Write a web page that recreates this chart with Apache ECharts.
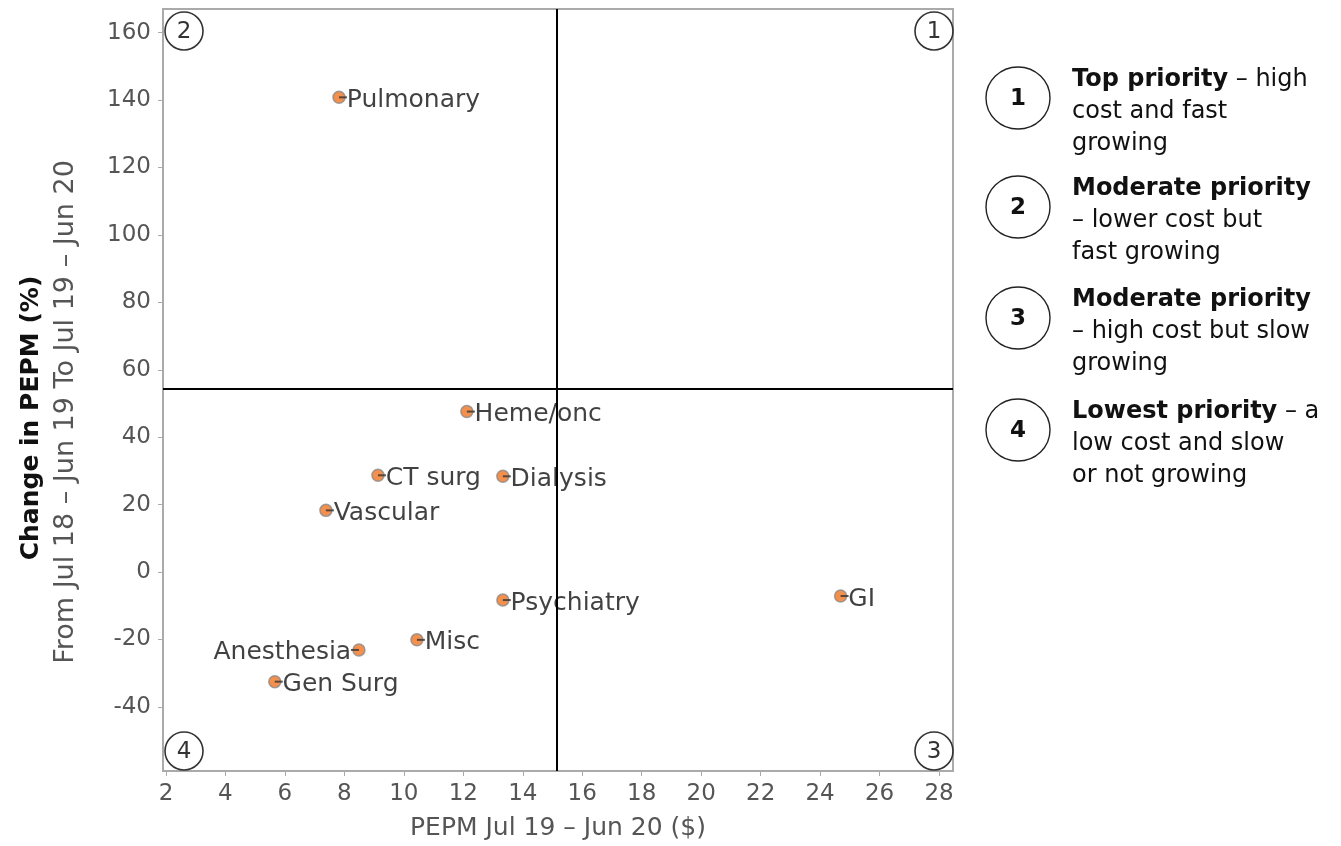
<!DOCTYPE html>
<html>
<head>
<meta charset="utf-8">
<script src="https://cdn.jsdelivr.net/npm/echarts@6/dist/echarts.min.js"></script>
<style>
  html, body { margin: 0; padding: 0; background: #fff; }
  #chart { width: 1341px; height: 846px; }
</style>
</head>
<body>
<div id="chart"></div>
<script>
// Specialty cost vs. growth
const specialties = ['Pulmonary', 'Heme/onc', 'CT surg', 'Dialysis', 'Vascular', 'Psychiatry', 'GI', 'Misc', 'Anesthesia', 'Gen Surg'];
const pepm = [7.82, 12.12, 9.13, 13.33, 7.38, 13.33, 24.69, 10.44, 8.49, 5.66];
const changePct = [140.8, 47.6, 28.7, 28.4, 18.3, -8.3, -7.1, -20.1, -23.1, -32.5];
const labelSide = ['right', 'right', 'right', 'right', 'right', 'right', 'right', 'right', 'left', 'right'];

// Quadrant dividers
const xSplit = 15.14;
const ySplit = 54.4;

// Axis ranges and ticks
const xRange = [1.9, 28.47];
const yRange = [-59, 167];
const xTicks = [2, 4, 6, 8, 10, 12, 14, 16, 18, 20, 22, 24, 26, 28];
const yTicks = [-40, -20, 0, 20, 40, 60, 80, 100, 120, 140, 160];

// Priority key
const quadrantNums = ['1', '2', '3', '4'];
const quadrantTitles = ['Top priority', 'Moderate priority', 'Moderate priority', 'Lowest priority'];
const quadrantTexts = [
  ' – high\ncost and fast\ngrowing',
  '\n– lower cost but\nfast growing',
  '\n– high cost but slow\ngrowing',
  ' – a\nlow cost and slow\nor not growing'
];

const FONT = 'DejaVu Sans';
const G = { left: 163, top: 9, right: 953, bottom: 772 };

const points = specialties.map((name, i) => ({
  name: name,
  value: [pepm[i], changePct[i]],
  label: { position: labelSide[i] }
}));
const stubs = specialties.map((name, i) => ({
  name: name,
  value: [pepm[i], changePct[i]],
  symbolOffset: [labelSide[i] === 'left' ? -4 : 4, 0]
}));

const graphics = [];
// Corner quadrant badges: [number, cx, cy]
[['2', G.left + 21, G.top + 22], ['1', G.right - 19, G.top + 22],
 ['4', G.left + 21, G.bottom - 21], ['3', G.right - 19, G.bottom - 21]].forEach(c => {
  graphics.push({
    type: 'circle', shape: { cx: c[1], cy: c[2], r: 19 }, z: 100,
    style: { fill: 'rgba(255,255,255,0)', stroke: '#333', lineWidth: 1.6 }
  });
  graphics.push({
    type: 'text', x: c[1], y: c[2] + 1, z: 101,
    style: { text: c[0], font: '23px "' + FONT + '"', fill: '#333', align: 'center', verticalAlign: 'middle' }
  });
});

// Key on the right
const keyY = [98, 207, 318, 430];
quadrantNums.forEach((n, i) => {
  graphics.push({
    type: 'ellipse', shape: { cx: 1018, cy: keyY[i], rx: 32, ry: 31 },
    style: { fill: '#fff', stroke: '#222', lineWidth: 1.4 }
  });
  graphics.push({
    type: 'text', x: 1018, y: keyY[i] + 1,
    style: { text: n, font: 'bold 23px "' + FONT + '"', fill: '#111', align: 'center', verticalAlign: 'middle' }
  });
  graphics.push({
    type: 'text', x: 1072, y: keyY[i] - 34,
    style: {
      text: '{b|' + quadrantTitles[i] + '}' + quadrantTexts[i],
      font: '24px "' + FONT + '"', fill: '#111', lineHeight: 32,
      align: 'left', verticalAlign: 'top',
      rich: { b: { font: 'bold 24px "' + FONT + '"', fill: '#111', lineHeight: 32 } }
    }
  });
});

// Y axis titles (rotated)
graphics.push({
  type: 'text', x: 31, y: 418, rotation: Math.PI / 2,
  style: { text: 'Change in PEPM (%)', font: 'bold 25px "' + FONT + '"', fill: '#111', align: 'center', verticalAlign: 'middle' }
});
graphics.push({
  type: 'text', x: 66, y: 412, rotation: Math.PI / 2,
  style: { text: 'From Jul 18 – Jun 19 To Jul 19 – Jun 20', font: '27px "' + FONT + '"', fill: '#555', align: 'center', verticalAlign: 'middle' }
});

const chart = echarts.init(document.getElementById('chart'));
chart.setOption({
  animation: false,
  backgroundColor: '#fff',
  textStyle: { fontFamily: FONT },
  grid: {
    left: G.left, top: G.top, width: G.right - G.left, height: G.bottom - G.top,
    show: true, borderColor: '#aaa', borderWidth: 2, containLabel: false
  },
  xAxis: {
    type: 'value', min: xRange[0], max: xRange[1],
    name: 'PEPM Jul 19 – Jun 20 ($)', nameLocation: 'middle', nameGap: 45,
    nameTextStyle: { fontSize: 25, color: '#555', fontFamily: FONT },
    axisLine: { show: true, onZero: false, lineStyle: { color: '#aaa', width: 2 } },
    axisTick: { show: true, length: 5, customValues: xTicks, lineStyle: { color: '#aaa' } },
    axisLabel: { customValues: xTicks, fontSize: 23, color: '#555', margin: 12, fontFamily: FONT },
    splitLine: { show: false }
  },
  yAxis: {
    type: 'value', min: yRange[0], max: yRange[1],
    axisLine: { show: true, onZero: false, lineStyle: { color: '#aaa', width: 2 } },
    axisTick: { show: true, length: 5, customValues: yTicks, lineStyle: { color: '#aaa' } },
    axisLabel: { customValues: yTicks, fontSize: 23, color: '#555', margin: 12, fontFamily: FONT },
    splitLine: { show: false }
  },
  series: [
    {
      type: 'scatter',
      data: points,
      symbol: 'circle', symbolSize: 12,
      itemStyle: { color: '#f07420', borderColor: '#8a8a8a', borderWidth: 1.5 },
      label: {
        show: true, formatter: '{b}', distance: 1, offset: [0, 3],
        fontSize: 25, color: '#111', fontFamily: FONT
      },
      markLine: {
        silent: true, symbol: 'none', animation: false,
        lineStyle: { color: '#000', width: 2, type: 'solid' },
        label: { show: false },
        data: [{ xAxis: xSplit }, { yAxis: ySplit }]
      },
      z: 3
    },
    {
      type: 'scatter',
      data: stubs,
      symbol: 'rect', symbolSize: [8, 2],
      itemStyle: { color: '#333' },
      silent: true,
      z: 4
    }
  ],
  graphic: graphics
});
</script>
</body>
</html>
